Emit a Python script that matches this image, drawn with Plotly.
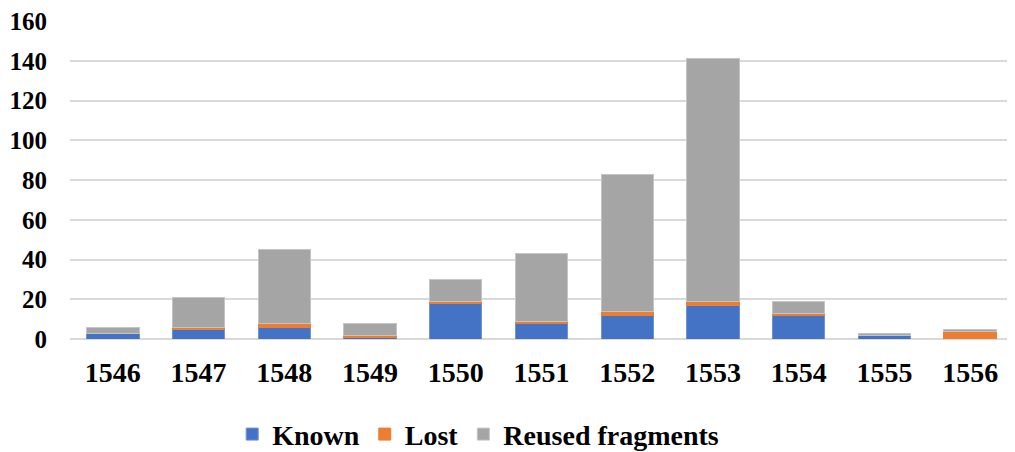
import plotly.graph_objects as go

years = ["1546", "1547", "1548", "1549", "1550", "1551", "1552", "1553", "1554", "1555", "1556"]
known = [3, 5, 6, 1, 18, 8, 12, 17, 12, 2, 0]
lost = [0, 1, 2, 1, 1, 1, 2, 2, 1, 0, 4]
reused = [3, 15, 37, 6, 11, 34, 69, 122, 6, 1, 1]

font_family = "Times New Roman, 'Liberation Serif', serif"

fig = go.Figure()
for name, vals, color, line in [
    ("Known", known, "#4472C4", "#6f93d6"),
    ("Lost", lost, "#ED7D31", "#ED7D31"),
    ("Reused fragments", reused, "#A5A5A5", "#c4c4c4"),
]:
    fig.add_trace(go.Bar(
        x=years, y=vals, name=name,
        marker=dict(color=color, line=dict(color=line, width=1)),
    ))

# page body has an 8px margin, so the figure is 8px smaller and offsets are shifted
fig.update_layout(
    barmode="stack",
    bargap=0.39,
    width=1007, height=444,
    margin=dict(l=62, r=2, t=13, b=113, autoexpand=False),
    plot_bgcolor="white", paper_bgcolor="white",
    font=dict(family=font_family, color="black"),
    legend=dict(
        orientation="h", x=0.172, xanchor="left", y=-0.30, yanchor="middle",
        font=dict(size=28, family=font_family, weight="bold"),
        traceorder="normal",
    ),
    xaxis=dict(
        tickfont=dict(size=28, family=font_family, weight="bold"),
        showgrid=False, showline=False,
        ticks="outside", ticklen=8, tickcolor="rgba(0,0,0,0)",
        automargin=False,
    ),
    yaxis=dict(
        range=[0, 160], dtick=20,
        tickfont=dict(size=25, family=font_family, weight="bold"),
        showgrid=True, gridcolor="#d9d9d9", gridwidth=1.5,
        zeroline=True, zerolinecolor="#d9d9d9", zerolinewidth=1.5,
        showline=False,
        ticks="outside", ticklen=17, tickcolor="rgba(0,0,0,0)",
        ticklabeloverflow="allow",
        automargin=False,
    ),
)

fig.write_html("out.html")
